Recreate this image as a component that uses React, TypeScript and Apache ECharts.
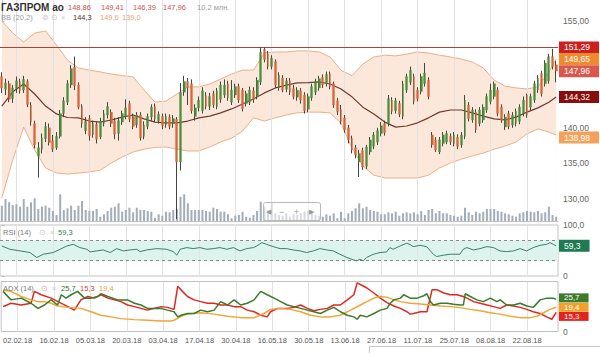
import React, { useEffect, useRef } from 'react';
import * as echarts from 'echarts';

const FONT = 'Liberation Sans, Arial, sans-serif';

const categories = Array.from({ length: 153 }, (_, i) => String(i));
const tickLabels = ['02.02.18', '16.02.18', '05.03.18', '20.03.18', '03.04.18', '17.04.18', '30.04.18', '16.05.18', '30.05.18', '13.06.18', '27.06.18', '11.07.18', '25.07.18', '08.08.18', '22.08.18'];
const tickIndex = [4, 14, 24, 34, 44, 54, 64, 74, 84, 94, 104, 114, 124, 134, 144];
const priceTicks = [130, 135, 140, 155];
const rsiTicks = [0, 100];

const openP = [
  147.2, 145.4, 146.2, 144.1, 145.5, 146.5, 145.3, 146.5, 143.2, 140.6,
  136.0, 137.0, 138.5, 140.0, 138.2, 137.2, 138.8, 142.0, 143.6, 146.0,
  148.5, 146.0, 143.0, 139.6, 141.3, 139.0, 140.5, 138.7, 140.6, 141.8,
  142.2, 141.0, 139.2, 140.8, 141.6, 143.4, 141.6, 140.4, 141.8, 138.8,
  140.2, 141.5, 143.0, 141.0, 141.6, 140.4, 141.5, 140.6, 141.2, 135.2,
  145.0, 146.5, 146.2, 141.6, 142.8, 142.4, 144.5, 143.0, 144.8, 143.0,
  144.0, 144.6, 146.2, 143.6, 144.6, 145.8, 145.3, 143.4, 143.6, 145.2,
  144.4, 146.4, 151.0, 150.4, 148.6, 149.3, 145.6, 147.0, 145.4, 146.6,
  145.5, 144.3, 145.2, 144.6, 142.6, 144.2, 145.0, 145.6, 147.1, 146.2,
  147.6, 146.2, 143.8, 142.6, 141.4, 140.0, 138.5, 137.2, 135.2, 136.8,
  134.6, 136.6, 137.4, 138.0, 139.2, 140.6, 140.6, 143.9, 142.4, 143.4,
  141.6, 145.3, 146.4, 147.2, 145.3, 145.1, 146.2, 146.7, 139.0, 138.3,
  136.6, 137.8, 138.0, 138.8, 137.8, 138.7, 137.6, 138.8, 143.2, 141.1,
  142.2, 140.6, 141.1, 142.5, 143.7, 144.4, 145.3, 142.9, 140.1, 142.0,
  140.4, 140.6, 140.9, 142.0, 144.6, 142.9, 143.9, 145.3, 147.6, 146.2,
  146.6, 150.0, 148.86,
];
const closeP = [
  145.6, 146.3, 144.0, 145.6, 146.6, 145.2, 146.8, 143.3, 140.8, 137.6,
  137.2, 138.6, 140.2, 137.9, 137.0, 138.8, 142.0, 143.8, 146.2, 148.3,
  145.9, 142.9, 140.6, 140.9, 138.9, 140.6, 138.4, 140.9, 142.0, 143.0,
  140.6, 139.1, 141.0, 142.0, 142.8, 141.2, 140.2, 141.8, 138.6, 140.4,
  141.6, 142.9, 141.2, 141.9, 140.3, 141.6, 140.2, 141.3, 135.2, 145.0,
  146.5, 145.6, 142.4, 142.8, 143.9, 145.2, 143.0, 144.4, 143.2, 145.2,
  146.0, 146.0, 144.2, 145.3, 145.8, 143.9, 142.7, 144.8, 145.3, 144.0,
  146.7, 150.6, 149.6, 148.6, 149.8, 146.0, 147.4, 145.3, 146.6, 145.0,
  144.4, 145.3, 143.9, 142.4, 144.4, 145.8, 146.5, 146.9, 146.0, 147.5,
  145.8, 143.2, 142.3, 140.9, 139.7, 138.3, 136.9, 136.2, 136.4, 134.5,
  137.3, 138.3, 139.0, 139.6, 140.3, 139.3, 144.1, 142.3, 143.8, 141.9,
  146.2, 147.2, 148.1, 143.7, 144.1, 147.2, 147.7, 144.4, 137.6, 136.9,
  138.3, 139.0, 139.2, 138.0, 139.0, 137.4, 139.0, 143.9, 141.3, 142.5,
  139.7, 142.5, 142.9, 144.4, 145.3, 146.2, 142.0, 141.1, 141.5, 140.2,
  141.8, 142.3, 142.9, 143.9, 141.8, 144.4, 146.2, 147.0, 144.8, 149.1,
  150.0, 148.6, 147.96,
];
const lowP = [
  144.9, 144.6, 143.6, 143.5, 144.9, 144.8, 144.9, 142.9, 140.3, 137.1,
  133.0, 136.4, 138.0, 137.5, 136.6, 136.9, 138.5, 141.5, 143.2, 145.6,
  145.3, 142.6, 140.0, 139.1, 138.2, 138.6, 137.8, 138.4, 140.2, 141.3,
  140.1, 138.4, 138.2, 140.4, 141.2, 140.8, 139.8, 140.0, 138.2, 138.4,
  139.8, 141.0, 140.8, 140.6, 139.8, 140.0, 139.8, 140.0, 127.2, 134.0,
  144.5, 143.2, 142.0, 141.0, 142.3, 142.0, 142.6, 142.5, 142.8, 142.6,
  143.5, 144.2, 143.8, 143.2, 144.2, 143.5, 142.3, 143.0, 143.2, 143.5,
  144.0, 146.0, 149.2, 148.2, 148.2, 145.6, 145.2, 145.0, 145.0, 144.6,
  144.0, 143.8, 143.4, 142.0, 142.2, 143.8, 144.6, 145.2, 145.6, 145.8,
  145.4, 142.8, 141.8, 140.5, 139.3, 137.8, 136.4, 135.7, 133.1, 134.1,
  134.2, 136.2, 137.0, 137.6, 138.8, 138.9, 140.2, 141.9, 142.0, 141.5,
  141.2, 144.9, 146.0, 143.3, 143.7, 144.7, 145.8, 144.0, 137.2, 136.6,
  136.3, 137.4, 137.7, 137.6, 137.4, 137.0, 137.2, 138.4, 140.9, 140.7,
  139.3, 140.2, 140.7, 142.1, 143.3, 144.0, 141.6, 140.7, 139.7, 139.8,
  140.0, 140.2, 140.5, 141.6, 141.4, 142.5, 143.5, 144.9, 144.4, 145.8,
  146.2, 148.2, 146.39,
];
const highP = [
  147.8, 146.9, 146.6, 146.0, 147.2, 146.9, 147.3, 146.8, 143.6, 141.0,
  138.0, 139.2, 140.8, 140.6, 139.0, 139.4, 142.5, 144.3, 146.7, 148.8,
  150.0, 146.4, 143.3, 141.5, 141.8, 141.0, 140.8, 141.4, 142.5, 143.6,
  142.6, 141.4, 141.5, 142.4, 144.0, 143.8, 142.0, 142.2, 142.2, 140.9,
  142.0, 143.3, 143.4, 142.3, 142.0, 142.0, 141.9, 141.8, 141.5, 146.3,
  147.3, 147.0, 146.8, 143.3, 144.4, 145.7, 145.0, 144.9, 145.2, 145.6,
  146.5, 146.8, 146.6, 146.7, 146.2, 146.2, 145.6, 145.2, 145.8, 145.7,
  147.1, 151.29, 151.25, 150.8, 150.2, 149.6, 147.8, 147.4, 147.0, 147.0,
  146.0, 145.7, 145.6, 145.0, 144.8, 146.2, 146.9, 147.3, 147.5, 147.9,
  147.9, 146.5, 144.2, 143.2, 141.8, 140.4, 138.9, 137.6, 136.9, 137.2,
  137.6, 138.7, 139.4, 140.0, 140.8, 141.0, 144.6, 144.3, 144.2, 143.8,
  146.6, 147.6, 148.6, 147.6, 145.7, 147.6, 149.1, 147.1, 139.4, 138.7,
  138.7, 139.4, 139.6, 139.2, 139.4, 139.1, 139.4, 144.6, 143.6, 142.9,
  142.6, 142.9, 143.3, 144.8, 146.2, 146.5, 145.7, 143.3, 141.9, 142.4,
  142.2, 142.7, 143.3, 144.4, 144.8, 144.8, 146.6, 147.4, 148.0, 149.5,
  150.4, 151.1, 149.41,
];
// volume, millions of shares
const volume = [
  36.7, 52.8, 44.9, 38.4, 40.1, 34.3, 52.8, 34.3, 44.9, 54.5,
  28.8, 34.3, 36.7, 31.9, 24.0, 14.4, 64.1, 26.4, 30.5, 36.7,
  26.4, 36.7, 48.0, 26.4, 24.0, 24.0, 28.8, 10.3, 16.1, 24.0,
  31.9, 34.3, 42.5, 22.3, 26.4, 31.9, 20.9, 31.9, 26.4, 26.4,
  24.0, 22.3, 7.9, 16.1, 12.7, 22.3, 20.9, 26.4, 28.8, 58.3,
  64.1, 42.5, 26.4, 26.4, 26.4, 26.4, 24.0, 22.3, 31.9, 28.8,
  22.3, 22.3, 16.1, 6.5, 12.7, 14.4, 22.3, 10.3, 7.9, 14.4,
  24.0, 46.3, 34.3, 26.4, 42.5, 18.5, 14.4, 12.7, 18.5, 10.3,
  16.1, 14.4, 18.5, 22.3, 24.0, 18.5, 14.4, 12.7, 10.3, 16.1,
  12.7, 18.5, 6.5, 22.3, 6.5, 18.5, 24.0, 30.5, 42.5, 30.5,
  34.3, 26.4, 24.0, 22.3, 16.1, 16.1, 20.9, 18.5, 22.3, 12.7,
  18.5, 20.9, 18.5, 20.9, 16.1, 24.0, 14.4, 26.4, 28.8, 18.5,
  24.0, 18.5, 18.5, 14.4, 12.7, 10.3, 12.7, 31.9, 20.9, 14.4,
  22.3, 18.5, 22.3, 28.8, 28.8, 28.8, 24.0, 22.3, 18.5, 16.1,
  12.7, 10.3, 18.5, 20.9, 24.0, 22.3, 20.9, 24.0, 18.5, 20.9,
  34.3, 14.4, 10.2,
];

// Bollinger bands (20,2), read at every third candle
const bbIndex = [0, 3, 6, 9, 12, 15, 18, 21, 24, 27, 30, 33, 36, 39, 42, 45, 48, 51, 54, 57, 60, 63, 66, 69, 72, 75, 78, 81, 84, 87, 90, 93, 96, 99, 102, 105, 108, 111, 114, 117, 120, 123, 126, 129, 132, 135, 138, 141, 144, 147, 150, 152];
const bbUpper = [155.0, 153.3, 152.05, 153.3, 153.6, 151.6, 149.5, 148.4, 148.1, 147.85, 147.55, 147.35, 147.15, 145.3, 143.6, 143.75, 144.75, 145.75, 145.75, 146.15, 146.85, 147.55, 148.1, 148.1, 150.5, 150.65, 150.65, 150.8, 150.8, 150.65, 149.95, 148.1, 147.3, 148.95, 149.95, 150.2, 150.1, 150.35, 150.65, 150.5, 150.2, 149.95, 149.65, 149.25, 148.4, 146.7, 145.85, 145.6, 145.45, 145.75, 147.85, 149.65];
const bbMid = [143.05, 145.05, 146.15, 144.75, 143.05, 141.95, 141.45, 141.4, 140.95, 140.8, 141.1, 141.5, 141.8, 141.25, 140.8, 140.7, 140.7, 140.95, 141.4, 141.65, 142.1, 142.65, 143.35, 144.05, 144.9, 145.6, 146.0, 146.3, 146.35, 146.45, 146.15, 145.45, 144.35, 142.9, 141.95, 140.8, 140.1, 140.25, 140.7, 141.4, 142.2, 142.5, 142.5, 142.1, 141.65, 141.25, 141.1, 141.5, 142.2, 142.8, 143.6, 144.32];
const bbLower = [130.15, 135.5, 140.1, 136.9, 134.35, 133.65, 133.5, 133.65, 133.8, 134.05, 135.05, 135.9, 136.6, 137.0, 137.25, 137.3, 137.0, 136.75, 136.75, 137.3, 138.0, 138.55, 139.55, 141.4, 140.95, 141.4, 141.8, 142.1, 142.2, 142.2, 142.1, 140.65, 137.15, 134.65, 133.35, 132.95, 132.95, 132.95, 132.95, 133.35, 134.35, 135.05, 135.6, 136.05, 136.45, 137.0, 137.45, 138.0, 139.15, 139.85, 139.4, 138.98];
const bbLegend = ['144,3', '149,6', '139,0'];

const priceLevel = 151.29;

// RSI(14): [candle position, value]
const rsi = [[0, 58.9], [2.2, 52.4], [5, 49.2], [7.7, 46], [9.6, 36.3], [11.4, 42.7], [14.1, 46], [16, 52.4], [17.8, 58.9], [19.6, 62.1], [21.4, 55.7], [23.3, 52.4], [24.2, 47.2], [26, 49.2], [27.8, 51.1], [29.7, 46], [31.5, 53.7], [33.3, 49.2], [35.1, 51.1], [37, 52.4], [37.9, 47.8], [39.7, 51.1], [42.5, 53.7], [45.2, 52.4], [47, 47.8], [48, 40.8], [48.9, 52.4], [50.7, 55.7], [52.5, 53.7], [54.3, 55.7], [56.2, 52.4], [58, 53.7], [59.8, 55.7], [61.7, 52.4], [63.5, 55.7], [65.3, 49.2], [67.1, 53.7], [69, 55.7], [69.9, 58.9], [71.3, 65.4], [72.6, 62.1], [74.4, 57.6], [76.3, 53.7], [78.1, 53.7], [79.9, 51.1], [81.8, 49.2], [83.6, 46], [85.4, 49.2], [87.2, 53.7], [89.1, 51.1], [90.9, 49.2], [92.7, 42.7], [94.6, 36.3], [96.4, 31.7], [97.3, 29.7], [98.2, 33], [99.1, 29.7], [100, 36.3], [101.9, 42.7], [103.7, 46], [105.5, 47.2], [106.4, 55.7], [107.3, 52.4], [109.2, 58.9], [111, 64.1], [111.9, 62.1], [112.8, 57.6], [114.7, 60.2], [116.5, 57.6], [118.3, 42.7], [119.2, 38.2], [121.1, 40.8], [122.9, 42.7], [125.6, 42.7], [126.5, 52.4], [127.5, 55.7], [129.3, 51.1], [131.1, 53.7], [133, 57.6], [134.8, 55.7], [136.6, 49.2], [138.4, 47.8], [140.3, 49.2], [142.1, 53.7], [143.9, 49.2], [145.7, 55.7], [147.6, 60.2], [149.4, 62.1], [150.3, 65.4], [151.2, 62.1], [152, 59.3]];

// ADX(14) lines: [candle position, value]
const diPlus = [[0, 32.1], [2.2, 25.3], [5, 26.7], [7.7, 22.6], [9.6, 18.5], [11.4, 21.2], [13.2, 25.3], [15, 21.2], [16, 29.4], [17.3, 26.7], [18.7, 29.4], [20.5, 32.1], [22.4, 26.7], [24.2, 26.7], [26, 28], [26.9, 30.2], [28.8, 28], [31.5, 25.3], [34.2, 25.3], [36.1, 22.6], [37.9, 21.2], [39.7, 18.5], [43.4, 18.5], [45.2, 17.1], [47, 15.8], [48, 11.7], [48.9, 13], [50.7, 14.4], [52.5, 14.4], [54.3, 17.1], [56.2, 15.8], [58, 17.1], [59.8, 23.9], [61.7, 21.2], [63.5, 25.3], [65.3, 21.2], [67.1, 22.6], [69, 25.3], [70.8, 32.1], [72.6, 29.4], [74.5, 26.7], [76.3, 23.9], [78.1, 21.2], [79.9, 19.9], [81.8, 18.5], [83.6, 17.1], [85.4, 15.8], [87.2, 14.4], [89.1, 17.1], [90.9, 19.3], [92.7, 15.8], [94.6, 13], [96.4, 11.7], [97.3, 9.8], [98.2, 13], [100, 11.7], [101.9, 14.4], [103.7, 17.1], [105.5, 18.5], [106.4, 22.6], [107.4, 25.3], [109.2, 26.7], [110.1, 29.4], [111.9, 26.7], [113.8, 26.7], [115.6, 28.6], [116.5, 30.2], [117.4, 23.9], [118.3, 21.2], [120.2, 22.6], [122, 22.6], [123.8, 21.8], [125.6, 21.2], [126.5, 21.2], [127, 30.2], [128.4, 28], [130.2, 25.3], [132, 23.9], [133.9, 26.7], [135.7, 23.9], [136.6, 25.3], [138.4, 21.2], [140.3, 21.2], [142.1, 22.6], [143.9, 20.4], [145.7, 19.3], [147.6, 25.3], [149.4, 26.7], [151.2, 26.7], [152, 25.7]];
const diMinus = [[0, 19.9], [2.2, 22.6], [5, 21.2], [7.7, 22.6], [8.6, 32.1], [10.5, 29.4], [13.2, 26.7], [17.8, 19.9], [19.6, 17.1], [21.4, 25.3], [23.3, 28], [25.1, 26.7], [26.9, 29.4], [28.8, 26.7], [30.6, 25.3], [32.4, 23.9], [34.2, 21.2], [36.1, 19.9], [37.9, 18.5], [39.7, 17.1], [41.5, 18.5], [43.4, 19.9], [45.2, 19.3], [47, 17.7], [48, 36.2], [49.3, 32.1], [50.7, 28], [52.5, 25.3], [54.3, 23.9], [56.2, 22.6], [58, 22.6], [59.8, 21.2], [61.7, 21.2], [63.5, 19.9], [65.3, 19.9], [67.1, 17.1], [69, 15.8], [70.8, 13], [72.6, 11.7], [73.5, 15.8], [75.4, 18.5], [78.1, 18.5], [79.9, 19.3], [81.8, 21.2], [83.6, 18.5], [85.4, 16.6], [87.2, 17.7], [89.1, 18.5], [90.9, 21.2], [92.7, 21.2], [94.6, 25.3], [96.4, 29.4], [97.3, 38.9], [98.2, 37.6], [100, 34.8], [101.9, 30.8], [103.7, 26.7], [105.5, 23.1], [107.4, 20.4], [109.2, 18.5], [111, 15.8], [111.9, 13.9], [112.8, 14.4], [114.7, 15.8], [116.5, 15.8], [117.9, 33.5], [119.2, 33.5], [121.1, 30.8], [122.9, 29.4], [124.7, 29.4], [126.5, 28], [127.5, 26.7], [129.3, 23.9], [131.1, 22.6], [133, 21.2], [134.8, 19.9], [136.6, 18.5], [138.4, 21.2], [140.3, 20.4], [142.1, 19.3], [143.9, 17.7], [145.7, 15.8], [147.6, 14.4], [149.4, 11.7], [150.8, 9.8], [152, 15.3]];
const adx = [[0, 33], [2.2, 32.1], [5, 28], [7.7, 25.3], [9.6, 23.9], [11.4, 23.9], [13.2, 22.6], [15, 20.4], [17.8, 19.3], [21.4, 18.5], [24.2, 15.8], [26.9, 13], [29.7, 11.7], [32.4, 10.3], [36.1, 9.5], [39.7, 9], [43.4, 8.4], [46.1, 8.4], [47, 9], [48.9, 12.2], [50.7, 13.9], [54.3, 15], [58, 13.9], [61.7, 12.2], [65.3, 11.1], [69, 11.1], [71.7, 14.4], [73.5, 17.7], [76.3, 18.5], [79, 17.7], [81.8, 15.8], [84.5, 13], [87.2, 11.7], [90, 11.7], [92.7, 13], [95.5, 17.1], [98.2, 21.2], [100, 23.9], [101.9, 26.7], [103.7, 28], [105.5, 27.5], [107.4, 25.3], [109.2, 23.9], [111.9, 22.6], [114.7, 22], [117.4, 21.2], [120.2, 20.4], [122.9, 19.9], [125.6, 19.1], [128.4, 17.7], [131.1, 16.6], [133.9, 15], [136.6, 13.9], [139.4, 12.2], [142.1, 11.1], [144.8, 11.1], [146.7, 12.2], [148.5, 15], [150.3, 17.7], [152, 19.4]];

const N = categories.length;
const fmt = (v: number, d: number) => v.toFixed(d).replace('.', ',');
const last = <T,>(a: T[]) => a[a.length - 1];
const near = (v: number, list: number[]) => list.some((t) => Math.abs(t - v) < 1e-6);

export default function App() {
  const ref = useRef<HTMLDivElement>(null);
  useEffect(() => {
    const chart = echarts.init(ref.current!, null, { renderer: 'svg' });

    const vLines = tickIndex.map((i) => ({ xAxis: i, lineStyle: { color: '#e2e2e2', width: 1, type: 'solid' }, label: { show: false } }));
    const tag = (value: number, bg: string, dy = 0, small = false) => ({
      yAxis: value,
      lineStyle: { color: 'rgba(0,0,0,0)', width: 0 },
      label: {
        show: true, position: 'end', formatter: fmt(value, value > 100 ? 2 : 1), backgroundColor: bg, color: '#fff',
        fontSize: small ? 8 : 8.5, lineHeight: small ? 8 : 9, fontFamily: FONT, padding: small ? [1, 9, 0, 5] : [2, 9, 1, 5],
        distance: 1, offset: [0, dy],
      },
    });
    const pair = (idx: number[], vals: number[]) => idx.map((x, k) => [x, vals[k]]);
    const lastClose = last(closeP);

    const txt = (text: string, x: number, y: number, fill: string, font: string) => ({
      type: 'text', silent: true, z: 100,
      style: { text, x, y, fill, font, align: 'left', verticalAlign: 'middle', textAlign: 'left', textVerticalAlign: 'middle' },
    });
    const f8 = `7.5px ${FONT}`;

    const option: any = {
      animation: false,
      backgroundColor: '#ffffff',
      grid: [
        { left: 0, right: 42, top: 0, height: 221 },
        { left: 0, right: 42, top: 181, height: 40 },
        { left: 0, right: 42, top: 225, height: 51, show: true, borderColor: '#c2c2c2', borderWidth: 1 },
        { left: 0, right: 42, top: 281.5, height: 50, show: true, borderColor: '#c2c2c2', borderWidth: 1 },
      ],
      xAxis: [
        { type: 'category', gridIndex: 0, data: categories, boundaryGap: true, axisLine: { show: true, lineStyle: { color: '#c2c2c2' } }, axisTick: { show: false }, axisLabel: { show: false }, splitLine: { show: false } },
        { type: 'value', gridIndex: 0, min: -0.5, max: N - 0.5, show: false },
        { type: 'category', gridIndex: 1, data: categories, boundaryGap: true, show: false },
        { type: 'value', gridIndex: 2, min: -0.5, max: N - 0.5, show: false },
        {
          type: 'category', gridIndex: 3, data: categories, boundaryGap: true,
          axisLine: { show: false }, axisTick: { show: false }, splitLine: { show: false },
          axisLabel: {
            interval: (i: number) => tickIndex.indexOf(i) >= 0,
            formatter: (_v: string, i: number) => tickLabels[tickIndex.indexOf(i)] || '',
            fontSize: 7.5, fontFamily: FONT, color: '#555', margin: 5,
          },
        },
        { type: 'value', gridIndex: 3, min: -0.5, max: N - 0.5, show: false },
      ],
      yAxis: [
        {
          type: 'value', gridIndex: 0, position: 'right', min: 126.91, max: 157.95, scale: true,
          axisLine: { show: true, lineStyle: { color: '#c2c2c2' } },
          axisTick: { show: true, length: 3, lineStyle: { color: '#bbb' } },
          splitLine: { show: false },
          axisLabel: {
            showMinLabel: false, showMaxLabel: false, fontSize: 8.5, fontFamily: FONT, color: '#666', margin: 5,
            formatter: (v: number) => (near(v, priceTicks) ? fmt(v, 2) : ''),
          },
        },
        { type: 'value', gridIndex: 1, min: 0, max: 96, show: false },
        {
          type: 'value', gridIndex: 2, position: 'right', min: 0, max: 100, interval: 50,
          axisLine: { show: false }, axisTick: { show: true, length: 3, lineStyle: { color: '#bbb' } }, splitLine: { show: false },
          axisLabel: { fontSize: 8.5, fontFamily: FONT, color: '#666', margin: 5, formatter: (v: number) => (!near(v, rsiTicks) ? '' : v === 0 ? '0' : fmt(v, 1)) },
        },
        {
          type: 'value', gridIndex: 3, position: 'right', min: 0, max: 40, interval: 20,
          axisLine: { show: false }, axisTick: { show: true, length: 3, lineStyle: { color: '#bbb' } }, splitLine: { show: false },
          axisLabel: { fontSize: 8.5, fontFamily: FONT, color: '#666', margin: 5, formatter: (v: number) => (v === 0 ? '0' : '') },
        },
      ],
      series: [
        {
          name: 'bbUpper', type: 'line', z: 1, xAxisIndex: 1, yAxisIndex: 0, data: pair(bbIndex, bbUpper), symbol: 'none', silent: true,
          lineStyle: { color: '#e6b089', width: 1 }, areaStyle: { color: '#fce8db', opacity: 1, origin: 'start' },
        },
        {
          name: 'bbLower', type: 'line', z: 1, xAxisIndex: 1, yAxisIndex: 0, data: pair(bbIndex, bbLower), symbol: 'none', silent: true,
          lineStyle: { color: '#e6b089', width: 1 }, areaStyle: { color: '#ffffff', opacity: 1, origin: 'start' },
        },
        {
          name: 'bbMid', type: 'line', z: 3, xAxisIndex: 1, yAxisIndex: 0, data: pair(bbIndex, bbMid), symbol: 'none', silent: true,
          lineStyle: { color: '#6e3a2c', width: 1.2 },
          markLine: {
            silent: true, symbol: ['none', 'none'], animation: false, z: 2,
            data: [
              ...vLines,
              { yAxis: priceLevel, lineStyle: { color: '#a8443a', width: 1, type: 'solid' }, label: { show: true, position: 'end', formatter: fmt(priceLevel, 2), backgroundColor: '#cc1f1f', color: '#fff', fontSize: 8.5, lineHeight: 9, fontFamily: FONT, padding: [2, 9, 1, 5], distance: 1 } },
              tag(last(bbUpper), '#f08a2e'),
              tag(lastClose, '#d9574c'),
              tag(last(bbMid), '#8a0c0c'),
              tag(last(bbLower), '#f2a25a', 2.5),
            ],
          },
        },
        {
          name: 'volume', type: 'bar', z: 4, xAxisIndex: 2, yAxisIndex: 1, data: volume, barWidth: 2, silent: true,
          itemStyle: { color: '#a3acb9' },
        },
        {
          name: 'wicks', type: 'candlestick', z: 5, xAxisIndex: 0, yAxisIndex: 0, silent: true, barWidth: 0.6,
          data: openP.map((o, i) => [o, closeP[i], lowP[i], highP[i]]),
          itemStyle: { color: '#444', color0: '#444', borderColor: '#444', borderColor0: '#444', borderWidth: 1 },
        },
        {
          name: 'bodies', type: 'candlestick', z: 6, xAxisIndex: 0, yAxisIndex: 0, silent: true, barWidth: 2.3,
          data: openP.map((o, i) => [o, closeP[i], Math.min(o, closeP[i]), Math.max(o, closeP[i])]),
          itemStyle: { color: '#4a8e3b', color0: '#d6653a', borderColor: '#4a8e3b', borderColor0: '#d6653a', borderWidth: 0.3 },
        },
        {
          name: 'RSI', type: 'line', z: 3, xAxisIndex: 3, yAxisIndex: 2, data: rsi, symbol: 'none', silent: true,
          lineStyle: { color: '#3f7f64', width: 1 },
          markArea: { silent: true, z: 1, itemStyle: { color: '#dcf3ee' }, data: [[{ yAxis: 30 }, { yAxis: 70 }]] },
          markLine: {
            silent: true, symbol: ['none', 'none'], animation: false, z: 2,
            data: [
              ...vLines,
              { yAxis: 70, lineStyle: { color: '#8a8a8a', width: 1, type: [3, 3] }, label: { show: false } },
              { yAxis: 30, lineStyle: { color: '#8a8a8a', width: 1, type: [3, 3] }, label: { show: false } },
              tag(last(rsi)[1], '#1d7a52'),
            ],
          },
        },
        {
          name: '-DI', type: 'line', z: 3, xAxisIndex: 5, yAxisIndex: 3, data: diMinus, symbol: 'none', silent: true,
          lineStyle: { color: '#e0281f', width: 1.5 },
          markLine: { silent: true, symbol: ['none', 'none'], animation: false, z: 2, data: [...vLines, tag(last(diMinus)[1], '#e3231c', 4, true)] },
        },
        {
          name: 'ADX', type: 'line', z: 3, xAxisIndex: 5, yAxisIndex: 3, data: adx, symbol: 'none', silent: true,
          lineStyle: { color: '#f0a534', width: 1.5 },
          markLine: { silent: true, symbol: ['none', 'none'], animation: false, z: 3, data: [tag(last(adx)[1], '#f2a02a', 0, true)] },
        },
        {
          name: '+DI', type: 'line', z: 3, xAxisIndex: 5, yAxisIndex: 3, data: diPlus, symbol: 'none', silent: true,
          lineStyle: { color: '#3b7a2b', width: 1.5 },
          markLine: { silent: true, symbol: ['none', 'none'], animation: false, z: 4, data: [tag(last(diPlus)[1], '#3d7a2c', -1.5, true)] },
        },
      ],
      graphic: [
        txt('ГАЗПРОМ ао', 1, 7, '#333', `bold 10px ${FONT}`),
        txt(fmt(last(openP), 2), 68, 7, '#c4544f', f8),
        txt(fmt(last(highP), 2), 101, 7, '#c4544f', f8),
        txt(fmt(last(lowP), 2), 133, 7, '#c4544f', f8),
        txt(fmt(lastClose, 2), 163, 7, '#c4544f', f8),
        txt(fmt(last(volume), 1) + ' млн.', 197, 7, '#999', f8),
        txt('BB (20,2)', 1, 17, '#999', f8),
        txt('⊜', 42, 17, '#c8c8c8', f8),
        txt('⊙', 51, 17, '#c8c8c8', f8),
        txt('×', 61, 17, '#c8c8c8', f8),
        txt(bbLegend[0], 73, 17, '#5a2e26', f8),
        txt(bbLegend[1], 100, 17, '#e2a574', f8),
        txt(bbLegend[2], 122, 17, '#e2a574', f8),
        txt('RSI (14)', 3, 232, '#777', f8),
        txt('⊙', 39, 232, '#c8c8c8', f8),
        txt('×', 50, 232, '#c8c8c8', f8),
        txt(fmt(last(rsi)[1], 1), 58, 232, '#3d7a60', f8),
        txt('ADX (14)', 3, 288, '#777', f8),
        txt('⊙', 41, 288, '#d8a0a0', f8),
        txt('×', 52, 288, '#c8c8c8', f8),
        txt(fmt(last(diPlus)[1], 1), 61, 288, '#3e6e2c', f8),
        txt(fmt(last(diMinus)[1], 1), 80, 288, '#c8433c', f8),
        txt(fmt(last(adx)[1], 1), 99, 288, '#e7a33c', f8),
        {
          type: 'rect', silent: true, z: 100, shape: { x: 263.5, y: 202.5, width: 57, height: 18, r: 2 },
          style: { fill: 'rgba(255,255,255,0.55)', stroke: '#b8b8b8', lineWidth: 1 },
        },
        txt('◀', 266, 211.5, '#999', `7px ${FONT}`),
        txt('−', 279, 211.5, '#999', `9px ${FONT}`),
        txt('+', 294, 211.5, '#999', `9px ${FONT}`),
        txt('▶', 309, 211.5, '#999', `7px ${FONT}`),
        {
          type: 'rect', silent: true, z: 100, shape: { x: 369.5, y: 346.5, width: 240, height: 20 },
          style: { fill: '#fff', stroke: '#c8c8c8', lineWidth: 1 },
        },
      ],
    };
    chart.setOption(option);
    return () => chart.dispose();
  }, []);
  return <div ref={ref} style={{ position: 'fixed', left: 0, top: 0, width: 600, height: 353, background: '#fff' }} />;
}
